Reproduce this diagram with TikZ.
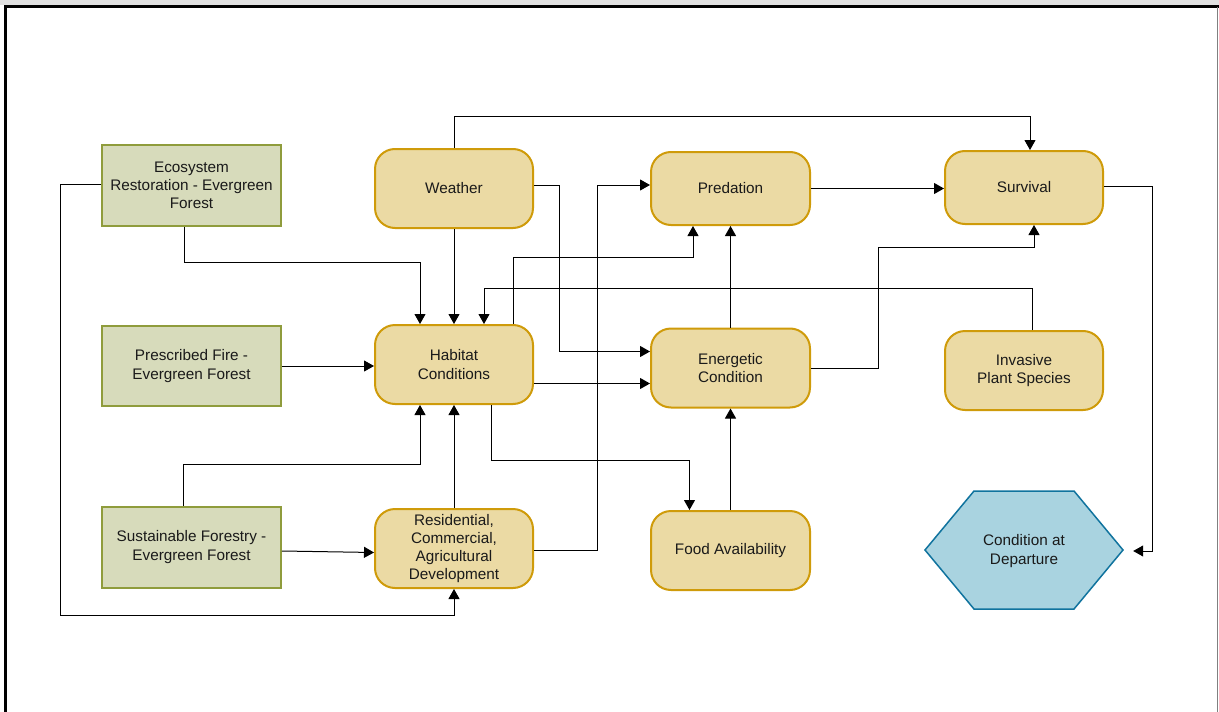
\documentclass[tikz,border=0pt]{standalone}
\usepackage{fontspec}
\setmainfont{Liberation Sans}
\usetikzlibrary{arrows.meta}
\usetikzlibrary{calc}

\definecolor{grnfill}{HTML}{D7DBBB}
\definecolor{grnline}{HTML}{8F9C3C}
\definecolor{yelfill}{HTML}{EBDAA4}
\definecolor{yelline}{HTML}{CF9B0A}
\definecolor{hexfill}{HTML}{A9D3E0}
\definecolor{hexline}{HTML}{10739E}
\definecolor{txt}{HTML}{1A1A1A}

\begin{document}
\begin{tikzpicture}[x=1pt,y=-1pt,
    greenbox/.style={draw=grnline,fill=grnfill,line width=2pt,minimum width=179pt,minimum height=81pt,align=center,text=txt},
    yelbox/.style={draw=yelline,fill=yelfill,line width=2pt,rounded corners=20pt,minimum width=158pt,minimum height=79pt,align=center,text=txt},
    link/.style={line width=1pt,-{Triangle[length=10pt,width=11pt]}}]
    \useasboundingbox (0,0) rectangle (1219,712);

    % Page frame
    \fill[black!12] (0,0) rectangle (1219,5);
    \draw[line width=2.5pt] (5.5,712) -- (5.5,6.5) -- (1219,6.5);
    \draw[gray,line width=1pt] (1217.5,7) -- (1217.5,712);

    \begin{scope}[font=\fontsize{15.3}{18.3}\selectfont]
    % Management actions:
    \node[greenbox] (eco)  at (191.5,185.5) {Ecosystem\\Restoration - Evergreen\\Forest};
    \node[greenbox,minimum height=80pt] (fire) at (191.5,366) {Prescribed Fire -\\Evergreen Forest};
    \node[greenbox] (sust) at (191.5,547) {Sustainable Forestry -\\Evergreen Forest};

    % Factors:
    \node[yelbox] (weather) at (454,188.5) {Weather};
    \node[yelbox] (habitat) at (454,364.5) {Habitat\\Conditions};
    \node[yelbox] (resid)   at (454,548.5) {Residential,\\Commercial,\\Agricultural\\Development};
    \node[yelbox,minimum width=159pt,minimum height=73pt] (pred)  at (730.5,188.5) {Predation};
    \node[yelbox,minimum width=159pt] (energ) at (730.5,368) {Energetic\\Condition};
    \node[yelbox,minimum width=159pt] (food)  at (730.5,550.5) {Food Availability};
    \node[yelbox,minimum height=73pt] (surv)  at (1024,187.5) {Survival};
    \node[yelbox] (invas) at (1024,370.5) {Invasive\\Plant Species};

    % Outcome: the hexagon is drawn as a path, the node only holds the text
    \filldraw[draw=hexline,fill=hexfill,line width=1.5pt,line join=miter]
        (925,550) -- (974,491) -- (1074,491) -- (1123,550) -- (1074,609) -- (974,609) -- cycle;
    \node[minimum width=198pt,minimum height=118pt,align=center,text=txt] (depart) at (1024,551) {Condition at\\Departure};
    \end{scope}

    % Links
    \draw[link] (weather.north) -- ++(0,-32) -| ([xshift=6pt]surv.north);
    \draw[link] ([yshift=3.5pt]weather.east) -- ++(25,0) |- ([yshift=16.5pt]energ.west);
    \draw[link] (weather.south) -- (habitat.north);
    \draw[link] ([xshift=-7.5pt]eco.south) -- ++(0,35) -| ([xshift=-34pt]habitat.north);
    \draw[link] ([yshift=1.5pt]eco.west) -- ++(-41,0) -- ++(0,431) -| (resid.south);
    \draw[link] (fire.east) -- (fire.east -| habitat.west);
    \draw[link] ([xshift=-8.5pt]sust.north) -- ++(0,-41) -| ([xshift=-34pt]habitat.south);
    \draw[link] ([yshift=-4pt]sust.east) -- ([yshift=-4pt]resid.west);
    \draw[link] (resid.north) -- (habitat.south);
    \draw[link] ([yshift=-1.5pt]resid.east) -- ++(63,0) |- ([yshift=3.5pt]pred.west);
    \draw[link] ([yshift=-19pt]habitat.east) -- ([yshift=-19pt]habitat.east -| energ.west);
    \draw[link] ([xshift=59pt]habitat.north) -- ++(0,-67) -| ([xshift=-37.5pt]pred.south);
    \draw[link] ([xshift=8.5pt]invas.north) -- ++(0,-42) -| ([xshift=30pt]habitat.north);
    \draw[link] ([xshift=37.5pt]habitat.south) -- ++(0,55) -| ([xshift=-41pt]food.north);
    \draw[link] (food.north) -- (energ.south);
    \draw[link] (energ.north) -- (pred.south);
    \draw[link] (pred.east) -- (pred.east -| surv.west);
    \draw[link] (energ.east) -- ++(67,0) -- ++(0,-121) -| ([xshift=10pt]surv.south);
    \draw[link,shorten >=10pt] ([yshift=1.5pt]surv.east) -- ++(48,0) |- (depart.east);
\end{tikzpicture}
\end{document}
